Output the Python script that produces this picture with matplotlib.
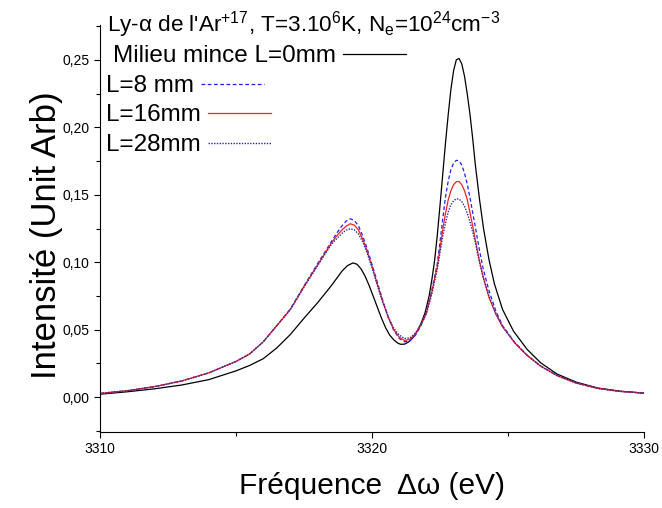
import matplotlib
matplotlib.use("Agg")
import matplotlib.pyplot as plt
from matplotlib.ticker import MultipleLocator, FuncFormatter
from matplotlib.legend import Legend

plt.rcParams['font.family'] = ['Liberation Sans', 'DejaVu Sans']
plt.rcParams['mathtext.fontset'] = 'custom'
plt.rcParams['mathtext.rm'] = 'Liberation Sans'
plt.rcParams['mathtext.it'] = 'Liberation Sans'
plt.rcParams['mathtext.bf'] = 'Liberation Sans:bold'

# ---- data ----
x_thin = [3310, 3311, 3312, 3313, 3314, 3315, 3315.5, 3316, 3316.5, 3317, 3317.5, 3318,
          3318.5, 3318.7, 3318.9, 3319.1, 3319.3, 3319.45, 3319.6, 3319.75, 3319.9,
          3320.05, 3320.2, 3320.35, 3320.5, 3320.65, 3320.8, 3320.95,
          3321.05, 3321.2, 3321.35, 3321.5, 3321.65, 3321.8, 3321.95,
          3322.1, 3322.2, 3322.3, 3322.4, 3322.5, 3322.6, 3322.7, 3322.8, 3322.9,
          3323.0, 3323.1, 3323.2, 3323.3, 3323.4, 3323.5, 3323.6, 3323.7, 3323.8,
          3323.95, 3324.1, 3324.3, 3324.5, 3324.8,
          3325.2, 3325.7, 3326.2, 3326.8, 3327.5, 3328.3, 3329.1, 3330]
y_thin = [0.0022, 0.0040, 0.0062, 0.0090, 0.0130, 0.0195, 0.0235, 0.0285, 0.0365, 0.0465,
          0.0585, 0.0700, 0.0825,
          0.0880, 0.0935, 0.0975, 0.0995, 0.0985, 0.0950, 0.0895, 0.0825,
          0.0745, 0.0665, 0.0585, 0.0515, 0.0460, 0.0425, 0.0400,
          0.0392, 0.0393, 0.0410, 0.0440, 0.0485, 0.0545, 0.0625,
          0.0750, 0.0870, 0.1010, 0.1200, 0.1420, 0.1650, 0.1880, 0.2090, 0.2280,
          0.2420, 0.2500, 0.2510, 0.2470, 0.2380, 0.2250, 0.2100, 0.1920, 0.1720,
          0.1470, 0.1250, 0.1020, 0.0840, 0.0650,
          0.0490, 0.0355, 0.0255, 0.0172, 0.0112, 0.0068, 0.0045, 0.0030]

x_thick = [3310, 3311, 3312, 3313, 3314, 3315, 3315.5, 3316, 3316.5, 3317, 3317.5, 3318, 3318.5,
           3318.7, 3318.9, 3319.05, 3319.2, 3319.35, 3319.5, 3319.65, 3319.8, 3320.0,
           3320.2, 3320.4, 3320.6, 3320.8, 3321.0, 3321.2, 3321.4, 3321.6, 3321.8, 3322.0, 3322.2,
           3322.4, 3322.5, 3322.6, 3322.7, 3322.8, 3322.9, 3323.0, 3323.1, 3323.2, 3323.3,
           3323.4, 3323.5, 3323.6, 3323.7, 3323.8, 3323.95, 3324.1, 3324.3,
           3324.55, 3324.8, 3325.25, 3325.7, 3326.2, 3326.8, 3327.5, 3328.3, 3329.1, 3330]
y_8mm = [0.0028, 0.0048, 0.0078, 0.0120, 0.0180, 0.0265, 0.0320, 0.0410, 0.0530, 0.0655,
         0.0825, 0.0990, 0.1150,
         0.1215, 0.1270, 0.1305, 0.1322, 0.1310, 0.1270, 0.1200, 0.1115, 0.0985,
         0.0850, 0.0715, 0.0590, 0.0495, 0.0435, 0.0410, 0.0418, 0.0460, 0.0530, 0.0630, 0.0795,
         0.0990, 0.1150, 0.1320, 0.1480, 0.1600, 0.1685, 0.1735, 0.1755, 0.1752, 0.1720,
         0.1660, 0.1580, 0.1480, 0.1370, 0.1260, 0.1090, 0.0940, 0.0790,
         0.0640, 0.0530, 0.0405, 0.0312, 0.0232, 0.0162, 0.0106, 0.0066, 0.0044, 0.0030]
y_16mm = [0.0028, 0.0048, 0.0078, 0.0120, 0.0180, 0.0265, 0.0320, 0.0410, 0.0530, 0.0650,
          0.0820, 0.0980, 0.1140,
          0.1195, 0.1240, 0.1268, 0.1285, 0.1275, 0.1240, 0.1175, 0.1095, 0.0970,
          0.0835, 0.0705, 0.0590, 0.0500, 0.0445, 0.0420, 0.0430, 0.0470, 0.0535, 0.0625, 0.0780,
          0.0970, 0.1100, 0.1240, 0.1360, 0.1460, 0.1530, 0.1575, 0.1597, 0.1598, 0.1575,
          0.1530, 0.1465, 0.1370, 0.1270, 0.1165, 0.1010, 0.0880, 0.0740,
          0.0615, 0.0522, 0.0402, 0.0310, 0.0230, 0.0160, 0.0105, 0.0065, 0.0043, 0.0030]
y_28mm = [0.0028, 0.0048, 0.0078, 0.0120, 0.0180, 0.0265, 0.0320, 0.0410, 0.0530, 0.0650,
          0.0815, 0.0975, 0.1130,
          0.1175, 0.1215, 0.1238, 0.1248, 0.1240, 0.1210, 0.1155, 0.1080, 0.0960,
          0.0825, 0.0700, 0.0595, 0.0510, 0.0460, 0.0435, 0.0440, 0.0475, 0.0535, 0.0620, 0.0765,
          0.0950, 0.1070, 0.1190, 0.1290, 0.1370, 0.1425, 0.1455, 0.1470, 0.1468, 0.1450,
          0.1415, 0.1365, 0.1300, 0.1225, 0.1145, 0.1000, 0.0880, 0.0750,
          0.0625, 0.0525, 0.0402, 0.0310, 0.0230, 0.0160, 0.0105, 0.0065, 0.0043, 0.0030]

labels = ["Milieu mince L=0mm", "L=8 mm", "L=16mm", "L=28mm"]
title = "Ly-α de l'Ar$^{+17}$, T=3.10$^{6}$K, N$_{e}$=10$^{24}$cm$^{-3}$"
xlabel = "Fréquence  Δω (eV)"
ylabel = "Intensité (Unit Arb)"

# ---- figure ----
fig = plt.figure(figsize=(6.62, 5.08), dpi=100)
ax = fig.add_axes([100/662, 1-432/508, 544/662, 407/508])

l0, = ax.plot(x_thin, y_thin, color='black', lw=0.9)
l1, = ax.plot(x_thick, y_8mm, color='#1f1fff', lw=0.9, linestyle=(0, (3, 2)))
l2, = ax.plot(x_thick, y_16mm, color='#ff1f1f', lw=0.9)
l3, = ax.plot(x_thick, y_28mm, color='#2a2a9a', lw=1.0, linestyle=(0, (1, 1)))

ax.set_xlim(3310, 3330)
ax.set_ylim(-0.0258, 0.2758)
ax.xaxis.set_major_locator(MultipleLocator(10))
ax.xaxis.set_minor_locator(MultipleLocator(5))
ax.yaxis.set_major_locator(MultipleLocator(0.05))
ax.yaxis.set_minor_locator(MultipleLocator(0.025))
ax.yaxis.set_major_formatter(FuncFormatter(lambda v, p: f"{v:.2f}".replace('.', ',').replace('-0,00', '0,00')))
ax.xaxis.set_major_formatter(FuncFormatter(lambda v, p: f"{v:.0f}"))

for s in ['top', 'right']:
    ax.spines[s].set_visible(False)
for s in ['left', 'bottom']:
    ax.spines[s].set_linewidth(0.8)
ax.tick_params(which='major', direction='out', length=4.5, width=0.8, labelsize=10, pad=3)
ax.tick_params(which='minor', direction='out', length=3, width=0.8)
ax.tick_params(axis='x', which='major', pad=3)

ax.set_xlabel(xlabel, fontsize=21.5, labelpad=11)
ax.set_ylabel(ylabel, fontsize=25)
ax.yaxis.set_label_coords(-0.068, 0.483)

fig.text(107/662, 1-31.5/508, title, fontsize=16.2, va='baseline', ha='left')

# Origin-style legend entries: text followed by line sample
handles = [l0, l1, l2, l3]
xs = [(113-100)/544, (106-100)/544, (106-100)/544, (106-100)/544]
ys = [1-(56-25)/407, 1-(86-25)/407, 1-(115-25)/407, 1-(145-25)/407]
for h, lab, xx, yy in zip(handles, labels, xs, ys):
    lg = Legend(ax, [h], [lab], loc='center left', bbox_to_anchor=(xx, yy),
                frameon=False, markerfirst=False, fontsize=17.5,
                handlelength=2.6, handletextpad=0.3, borderpad=0, borderaxespad=0)
    ax.add_artist(lg)

fig.savefig("out.png", dpi=100)
